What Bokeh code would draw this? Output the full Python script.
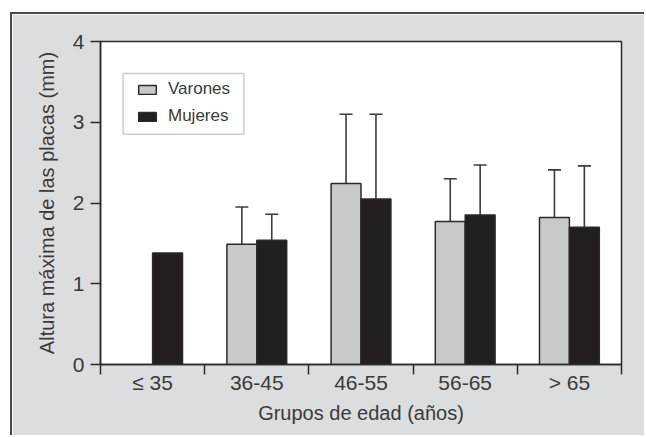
import numpy as np
from bokeh.plotting import figure
from bokeh.models import (ColumnDataSource, FixedTicker, Whisker, TeeHead,
                          Legend, LegendItem, BoxAnnotation)
from bokeh.embed import file_html
from bokeh.resources import INLINE

# Maximum plaque height (mm) by age group, mean and upper SD limit
groups = ["≤ 35", "36-45", "46-55", "56-65", "> 65"]
varones_mean = [np.nan, 1.49, 2.24, 1.77, 1.82]
varones_upper = [np.nan, 1.95, 3.10, 2.30, 2.41]
mujeres_mean = [1.38, 1.54, 2.05, 1.85, 1.70]
mujeres_upper = [np.nan, 1.86, 3.10, 2.47, 2.46]

FONT = "Liberation Sans"
TEXT = "#3a3a3a"
DARK = "#2a2a2a"
GRAY_FILL = "#c8c9cb"
BLACK_FILL = "#231f20"

bar_w = 0.287
centers = np.arange(len(groups)) + 0.5

p = figure(width=634, height=423, x_range=(0, 5), y_range=(0, 4),
           output_backend="svg", toolbar_location=None,
           min_border_left=88, min_border_right=25,
           min_border_top=27, min_border_bottom=73,
           background_fill_color="white", border_fill_color="#dcdddf",
           margin=(12, 0, 0, 10))
p.styles = {"border-top": "2px solid #4a4a4a", "border-left": "2px solid #4a4a4a"}
p.grid.visible = False
p.outline_line_color = DARK
p.outline_line_width = 1.5


def series(means, uppers, offset):
    m = np.array(means, dtype=float)
    u = np.array(uppers, dtype=float)
    bars = ColumnDataSource(dict(x=(centers + offset)[~np.isnan(m)], top=m[~np.isnan(m)]))
    ok = ~np.isnan(u)
    errs = ColumnDataSource(dict(x=(centers + offset)[ok], lower=m[ok], upper=u[ok]))
    return bars, errs


v_bars, v_errs = series(varones_mean, varones_upper, -bar_w / 2)
m_bars, m_errs = series(mujeres_mean, mujeres_upper, bar_w / 2)

for errs in (v_errs, m_errs):
    p.add_layout(Whisker(source=errs, base="x", lower="lower", upper="upper",
                         line_color="#3c3c3c", line_width=1.6,
                         upper_head=TeeHead(size=13, line_color="#3c3c3c", line_width=1.6),
                         lower_head=None, level="underlay"))

r_v = p.vbar(x="x", top="top", width=bar_w, source=v_bars,
             fill_color=GRAY_FILL, line_color=DARK, line_width=1.5)
r_m = p.vbar(x="x", top="top", width=bar_w, source=m_bars,
             fill_color=BLACK_FILL, line_color=DARK, line_width=1.5)

# Axes
p.xaxis.ticker = FixedTicker(ticks=list(centers), minor_ticks=list(range(len(groups) + 1)))
p.xaxis.major_label_overrides = {float(c): g for c, g in zip(centers, groups)}
p.xaxis.major_tick_out = 0
p.xaxis.major_tick_in = 0
p.xaxis.minor_tick_out = 10
p.xaxis.minor_tick_in = 0
p.xaxis.minor_tick_line_color = DARK
p.xaxis.minor_tick_line_width = 1.5
p.xaxis.major_label_standoff = -4
p.xaxis.axis_label = "Grupos de edad (años)"
p.xaxis.axis_label_standoff = 5

p.yaxis.ticker = FixedTicker(ticks=[0, 1, 2, 3, 4])
p.yaxis.major_tick_out = 10
p.yaxis.major_tick_in = 0
p.yaxis.minor_tick_line_color = None
p.yaxis.major_label_standoff = 6
p.yaxis.axis_label = "Altura máxima de las placas (mm)"
p.yaxis.axis_label_standoff = 12

for ax in (p.xaxis[0], p.yaxis[0]):
    ax.axis_line_color = DARK
    ax.axis_line_width = 1.5
    ax.major_tick_line_color = DARK
    ax.major_tick_line_width = 1.5
    ax.major_label_text_font = FONT
    ax.major_label_text_font_size = "21px"
    ax.major_label_text_color = TEXT
    ax.axis_label_text_font = FONT
    ax.axis_label_text_font_size = "20px"
    ax.axis_label_text_font_style = "normal"
    ax.axis_label_text_color = TEXT

# Legend box and entries
p.add_layout(BoxAnnotation(left=0.217, right=1.376, bottom=2.852, top=3.603,
                           fill_color="white", fill_alpha=1.0,
                           line_color="#555555", line_width=1.5, level="overlay"))
legend = Legend(items=[LegendItem(label="Varones", renderers=[r_v]),
                       LegendItem(label="Mujeres", renderers=[r_m])],
                location=(36, 238), padding=0, margin=0, spacing=7,
                glyph_width=22, glyph_height=11, label_height=20,
                label_standoff=10, label_text_font=FONT,
                label_text_font_size="17px", label_text_color=TEXT,
                border_line_alpha=0, background_fill_alpha=0)
p.add_layout(legend)

open("out.html", "w").write(file_html(p, INLINE))
